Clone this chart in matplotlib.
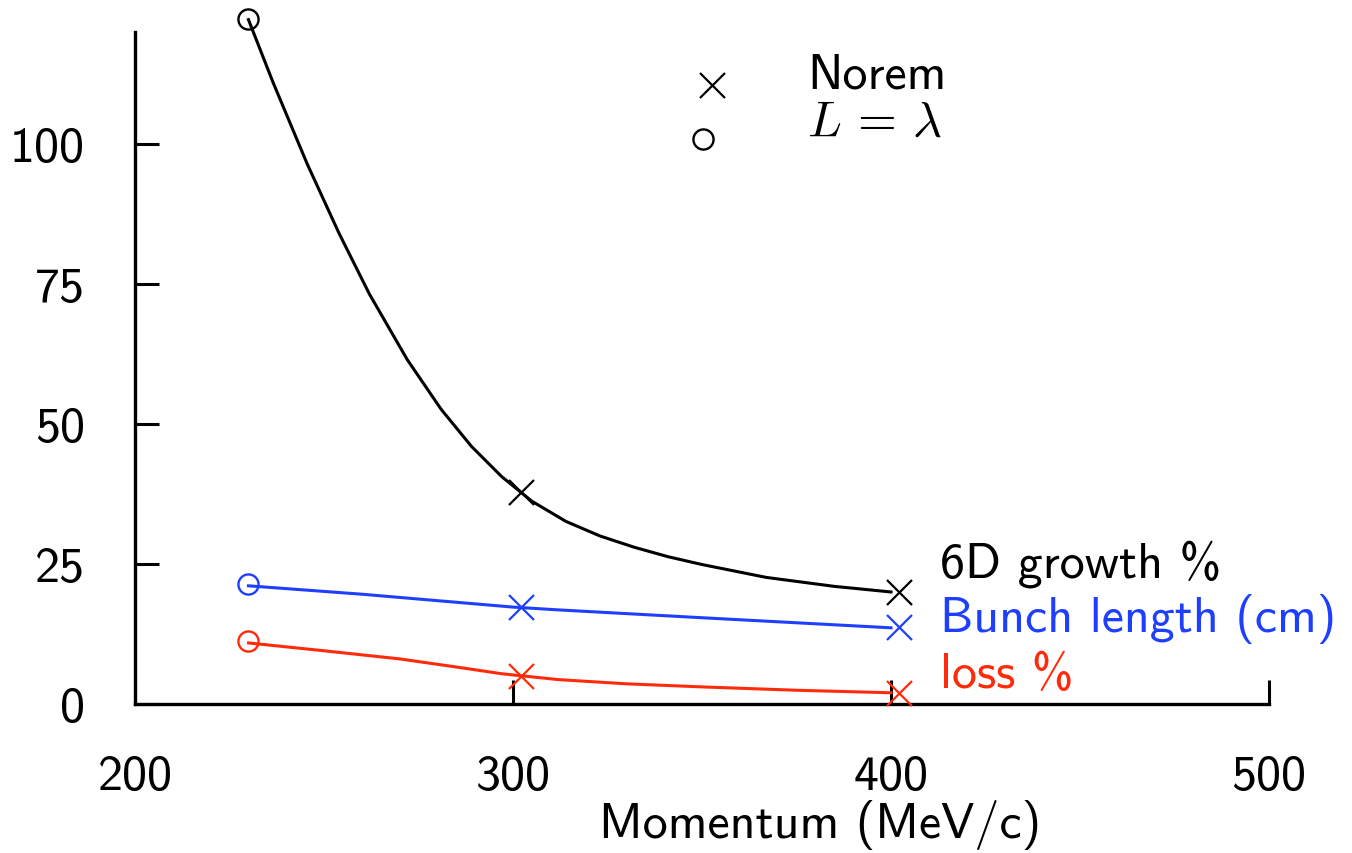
import matplotlib
matplotlib.use('Agg')
import matplotlib.pyplot as plt

# curves (momentum MeV/c, value)
growth_x = [230, 236.5, 245.5, 254, 262, 272, 281, 289, 297, 305, 314, 323, 332, 341, 350, 367, 385, 400]
growth_y = [122.2, 111.0, 96.5, 84.0, 73.2, 61.5, 52.6, 46.0, 40.6, 36.2, 32.6, 30.0, 28.0, 26.3, 24.9, 22.6, 21.0, 20.0]
bunch_x = [230, 260, 300, 312, 350, 400]
bunch_y = [21.1, 19.6, 17.3, 16.8, 15.4, 13.6]
loss_x = [230, 250, 270, 285, 297, 312, 330, 350, 375, 400]
loss_y = [10.9, 9.5, 8.05, 6.6, 5.4, 4.35, 3.6, 3.05, 2.45, 2.0]

# markers
lam_x = [230]
lam_growth = [122.3]
lam_bunch = [21.4]
lam_loss = [11.3]
norem_x = [302, 402]
norem_growth = [37.9, 20.0]
norem_bunch = [17.4, 13.8]
norem_loss = [5.0, 1.9]

xticks = [200, 300, 400, 500]
yticks = [0, 25, 50, 75, 100]

blue = '#1f3fff'
red = '#ff2a0a'

plt.rcParams['font.family'] = ['cmss10', 'DejaVu Sans']
plt.rcParams['mathtext.fontset'] = 'cm'
plt.rcParams['axes.unicode_minus'] = False

fig = plt.figure(figsize=(13.52, 8.54), dpi=100)
ax = fig.add_axes([0.0999, 0.1745, 0.8387, 0.7869])

for cx, cy, mx, my, lx, ly, c in [
        (growth_x, growth_y, norem_x, norem_growth, lam_x, lam_growth, 'black'),
        (bunch_x, bunch_y, norem_x, norem_bunch, lam_x, lam_bunch, blue),
        (loss_x, loss_y, norem_x, norem_loss, lam_x, lam_loss, red)]:
    ax.plot(cx, cy, color=c, lw=2.2, clip_on=False, zorder=3, solid_joinstyle='round')
    ax.plot(mx, my, ls='none', marker='x', ms=18, mew=1.6, color=c, clip_on=False, zorder=4)
    ax.plot(lx, ly, ls='none', marker='o', ms=14.5, mew=1.7, mfc='none', mec=c, clip_on=False, zorder=4)

# curve labels
ax.text(413, 22.7, '6D growth %', color='black', fontsize=36, va='baseline')
ax.text(413, 13.1, 'Bunch length (cm)', color=blue, fontsize=36, va='baseline')
ax.text(413, 3.0, 'loss %', color=red, fontsize=36, va='baseline')

# key
ax.plot([352.6], [110.5], ls='none', marker='x', ms=18, mew=1.6, color='black', clip_on=False)
ax.plot([350.3], [100.9], ls='none', marker='o', ms=14.5, mew=1.7, mfc='none', mec='black', clip_on=False)
ax.text(377.8, 110.0, 'Norem', fontsize=36, va='baseline')
ax.text(377.8, 101.6, r'$L\,=\,\lambda$', fontsize=36, va='baseline')

ax.set_xlim(200, 500)
ax.set_ylim(0, 120)
ax.set_xticks(xticks)
ax.set_yticks(yticks)
ax.spines['top'].set_visible(False)
ax.spines['right'].set_visible(False)
for s in ['left', 'bottom']:
    ax.spines[s].set_linewidth(2.4)
ax.tick_params(direction='in', length=17, width=2.2, labelsize=36, pad=36)

ax.text(0.604, -0.178, 'Momentum (MeV/c)', transform=ax.transAxes,
        fontsize=36, ha='center', va='center')

fig.savefig('out.png', dpi=100)
